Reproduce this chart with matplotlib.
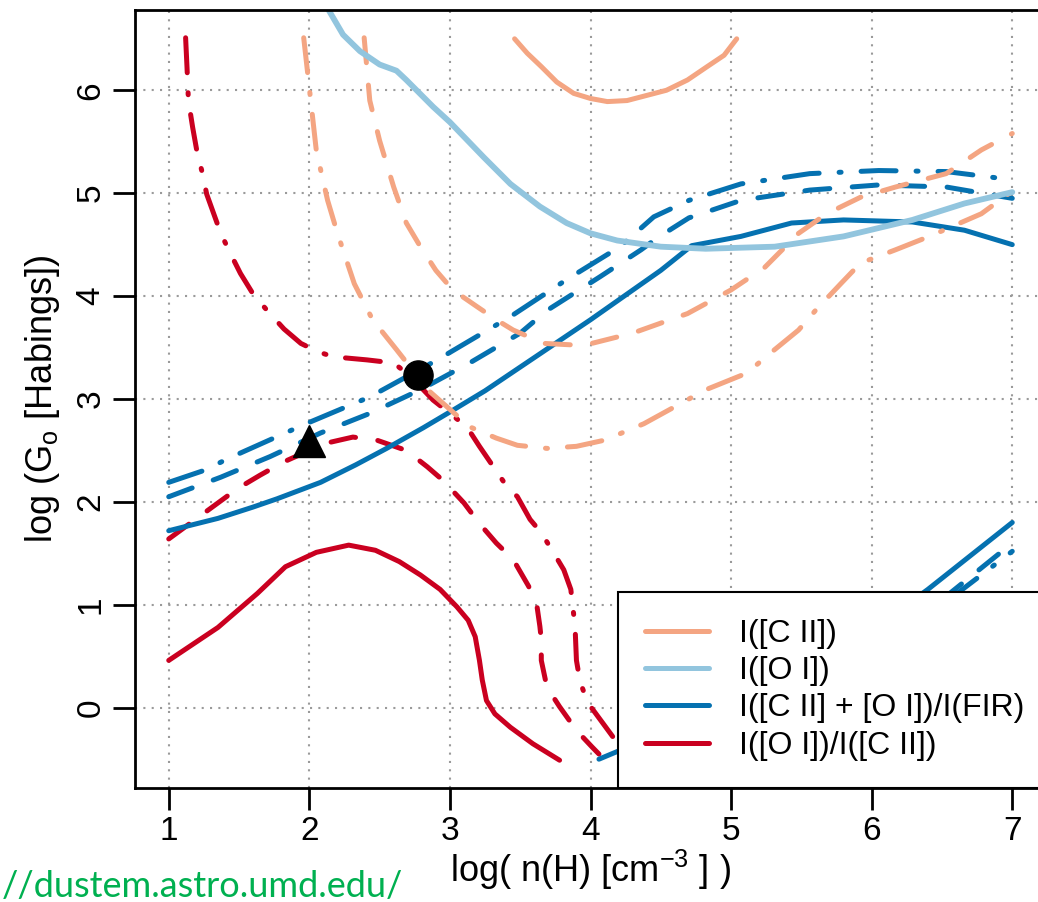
import matplotlib
matplotlib.use("Agg")
import matplotlib.pyplot as plt
from matplotlib.lines import Line2D

plt.rcParams['font.family'] = 'Liberation Sans'
plt.rcParams['mathtext.default'] = 'regular'

# colours (RdBu, 4 classes)
c_cii = '#F4A582'
c_oi = '#92C5DE'
c_sum = '#0571B0'
c_ratio = '#CA0020'

# I([C II]) contours
cii_solid_x = [3.46, 3.55, 3.65, 3.76, 3.88, 4.00, 4.12, 4.26, 4.40, 4.54, 4.69, 4.83, 4.95, 5.04]
cii_solid_y = [6.50, 6.36, 6.23, 6.08, 5.97, 5.92, 5.89, 5.90, 5.95, 6.00, 6.10, 6.23, 6.34, 6.50]
cii_dash_x = [2.39, 2.43, 2.50, 2.60, 2.69, 2.79, 2.90, 3.02, 3.19, 3.33, 3.45, 3.67, 3.95, 4.30,
              4.69, 5.00, 5.24, 5.48, 5.68, 5.92, 6.17, 6.53, 6.78, 7.00]
cii_dash_y = [6.51, 5.90, 5.51, 5.06, 4.71, 4.48, 4.25, 4.06, 3.90, 3.77, 3.67, 3.54, 3.52, 3.64,
              3.83, 4.06, 4.28, 4.61, 4.80, 4.96, 5.06, 5.19, 5.42, 5.58]
cii_dotdash_x = [1.96, 2.01, 2.05, 2.13, 2.20, 2.32, 2.45, 2.62, 2.85, 3.14, 3.33, 3.48, 3.69, 3.90,
                 4.10, 4.38, 4.82, 5.11, 5.31, 5.48, 5.60, 5.78, 5.92, 6.17, 6.41, 6.78, 7.00]
cii_dotdash_y = [6.51, 5.90, 5.41, 4.93, 4.61, 4.12, 3.77, 3.48, 3.08, 2.73, 2.62, 2.55, 2.52, 2.54,
                 2.60, 2.76, 3.09, 3.25, 3.48, 3.67, 3.86, 4.12, 4.32, 4.45, 4.58, 4.80, 5.02]

# I([O I])
oi_x = [2.12, 2.24, 2.36, 2.50, 2.62, 2.69, 2.88, 3.00, 3.24, 3.43, 3.64, 3.83, 4.00, 4.19, 4.50,
        4.82, 5.31, 5.80, 6.29, 6.66, 7.00]
oi_y = [6.82, 6.54, 6.38, 6.25, 6.19, 6.10, 5.84, 5.69, 5.35, 5.09, 4.87, 4.71, 4.61, 4.54, 4.48,
        4.46, 4.48, 4.58, 4.74, 4.90, 5.01]

# I([C II] + [O I])/I(FIR)
sum_solid_x = [1.00, 1.35, 1.60, 1.77, 2.08, 2.33, 2.55, 2.81, 3.02, 3.25, 3.50, 3.75, 4.00, 4.25,
               4.50, 4.72, 5.07, 5.43, 5.80, 6.29, 6.66, 7.00]
sum_solid_y = [1.72, 1.84, 1.95, 2.03, 2.19, 2.36, 2.52, 2.72, 2.89, 3.08, 3.31, 3.54, 3.77, 4.01,
               4.25, 4.49, 4.58, 4.71, 4.74, 4.72, 4.64, 4.50]
sum_dash_x = [1.00, 1.37, 1.72, 2.08, 2.43, 2.79, 3.14, 3.50, 3.69, 4.07, 4.36, 4.48, 4.70, 5.07,
              5.56, 6.05, 6.53, 7.00]
sum_dash_y = [2.05, 2.24, 2.44, 2.67, 2.86, 3.09, 3.35, 3.64, 3.86, 4.19, 4.45, 4.57, 4.76, 4.93,
              5.03, 5.08, 5.06, 4.95]
sum_dotdash_x = [1.00, 1.26, 1.42, 1.96, 2.43, 2.91, 3.43, 3.83, 4.21, 4.45, 4.70, 5.07, 5.56,
                 6.05, 6.53, 7.00]
sum_dotdash_y = [2.19, 2.31, 2.42, 2.75, 3.02, 3.38, 3.80, 4.16, 4.48, 4.77, 4.93, 5.09, 5.19,
                 5.22, 5.21, 5.13]
# lower branch, mostly behind the legend
sum_low_solid_x = [4.06, 4.20, 6.30, 6.40, 7.00]
sum_low_solid_y = [-0.50, -0.42, 1.05, 1.15, 1.80]
sum_low_dash_x = [6.50, 7.00]
sum_low_dash_y = [1.05, 1.60]
sum_low_dotdash_x = [6.55, 7.00]
sum_low_dotdash_y = [1.05, 1.52]

# I([O I])/I([C II])
ratio_solid_x = [1.00, 1.35, 1.63, 1.83, 2.05, 2.28, 2.47, 2.64, 2.79, 2.93, 3.05, 3.13, 3.18,
                 3.21, 3.23, 3.26, 3.32, 3.43, 3.59, 3.78]
ratio_solid_y = [0.46, 0.78, 1.11, 1.37, 1.51, 1.58, 1.53, 1.42, 1.29, 1.15, 0.98, 0.85, 0.69,
                 0.46, 0.27, 0.07, -0.06, -0.19, -0.35, -0.51]
ratio_dash_x = [1.00, 1.21, 1.49, 1.65, 1.82, 2.00, 2.15, 2.31, 2.48, 2.69, 2.84, 2.95, 3.10,
                3.21, 3.33, 3.45, 3.56, 3.62, 3.64, 3.65, 3.65, 3.69, 3.78, 3.90, 4.01, 4.06]
ratio_dash_y = [1.64, 1.85, 2.13, 2.26, 2.39, 2.50, 2.58, 2.63, 2.60, 2.50, 2.34, 2.21, 1.99,
                1.79, 1.60, 1.44, 1.18, 0.98, 0.79, 0.66, 0.46, 0.20, 0.01, -0.22, -0.38, -0.45]
ratio_dotdash_x = [1.12, 1.13, 1.14, 1.17, 1.20, 1.24, 1.27, 1.32, 1.37, 1.44, 1.51, 1.60, 1.70,
                   1.82, 1.94, 2.06, 2.17, 2.41, 2.60, 2.72, 2.88, 3.00, 3.12, 3.21, 3.31, 3.39,
                   3.48, 3.57, 3.65, 3.74, 3.81, 3.86, 3.89, 3.90, 3.92, 3.94, 3.98, 4.05, 4.12,
                   4.19, 4.25]
ratio_dotdash_y = [6.51, 6.22, 5.90, 5.64, 5.41, 5.19, 4.99, 4.80, 4.61, 4.41, 4.22, 4.02, 3.86,
                   3.68, 3.54, 3.46, 3.41, 3.38, 3.35, 3.22, 2.99, 2.86, 2.73, 2.54, 2.34, 2.18,
                   2.05, 1.83, 1.70, 1.50, 1.34, 1.15, 0.79, 0.46, 0.30, 0.20, 0.05, -0.08,
                   -0.21, -0.34, -0.40]

# observed points
circle_x, circle_y = [2.77], [3.23]
triangle_x, triangle_y = [2.00], [2.59]

legend_labels = ['I([C II])', 'I([O I])', 'I([C II] + [O I])/I(FIR)', 'I([O I])/I([C II])']

LW = 3.6
DASH = (0, (5, 4.5))
DOTDASH = (0, (7, 4, 0.4, 4))

fig = plt.figure(figsize=(10.38, 9.02), dpi=100)
ax = fig.add_axes([0.13006, 0.12639, 0.87765, 0.86253])

def curve(x, y, color, ls, lw=LW):
    ax.plot(x, y, color=color, lw=lw, linestyle=ls,
            dash_capstyle='round', solid_capstyle='round', solid_joinstyle='round')

curve(ratio_solid_x, ratio_solid_y, c_ratio, '-')
curve(ratio_dash_x, ratio_dash_y, c_ratio, DASH)
curve(ratio_dotdash_x, ratio_dotdash_y, c_ratio, DOTDASH)

curve(sum_solid_x, sum_solid_y, c_sum, '-')
curve(sum_dash_x, sum_dash_y, c_sum, DASH)
curve(sum_dotdash_x, sum_dotdash_y, c_sum, DOTDASH)
curve(sum_low_solid_x, sum_low_solid_y, c_sum, '-')
curve(sum_low_dash_x, sum_low_dash_y, c_sum, DASH)
curve(sum_low_dotdash_x, sum_low_dotdash_y, c_sum, DOTDASH)

curve(cii_solid_x, cii_solid_y, c_cii, '-')
curve(cii_dash_x, cii_dash_y, c_cii, DASH)
curve(cii_dotdash_x, cii_dotdash_y, c_cii, DOTDASH)

curve(oi_x, oi_y, c_oi, '-', lw=4.2)

ax.plot(circle_x, circle_y, 'o', color='black', ms=21, zorder=5)
ax.plot(triangle_x, triangle_y, '^', color='black', ms=23, zorder=5)

ax.set_xlim(0.76, 7.24)
ax.set_ylim(-0.78, 6.78)
ax.set_xticks(range(1, 8))
ax.set_yticks(range(0, 7))
ax.grid(True, color='#9a9a9a', linestyle=(0, (1, 3)), linewidth=1.5)
ax.set_axisbelow(True)

for s in ax.spines.values():
    s.set_linewidth(2)
ax.tick_params(length=16, width=2, direction='out', labelsize=24)
ax.tick_params(axis='x', pad=4.5)
ax.tick_params(axis='y', pad=4.5)
for lab in ax.get_yticklabels():
    lab.set_rotation(90)
    lab.set_va('center')

ax.set_xlabel('log( n(H) [cm$^{-3}$ ] )', fontsize=26, labelpad=0)
ax.set_ylabel('log (G$_{o}$ [Habings])', fontsize=26, labelpad=10)

handles = [Line2D([], [], color=c, lw=LW, solid_capstyle='round')
           for c in (c_cii, c_oi, c_sum, c_ratio)]
leg = ax.legend(handles, legend_labels, loc='lower left', bbox_to_anchor=(0.530, 0.0),
                bbox_transform=ax.transAxes, borderaxespad=0, fontsize=23,
                handlelength=2.0, handletextpad=0.95, borderpad=0.85, labelspacing=0.23,
                fancybox=False, edgecolor='black', framealpha=1, facecolor='white')
leg.get_frame().set_linewidth(1.5)
leg.set_zorder(10)

fig.text(0.002, 0.006, '//dustem.astro.umd.edu/', color='#00B050', fontsize=26,
         family='Lato', va='baseline')

fig.savefig('out.png', dpi=100)
